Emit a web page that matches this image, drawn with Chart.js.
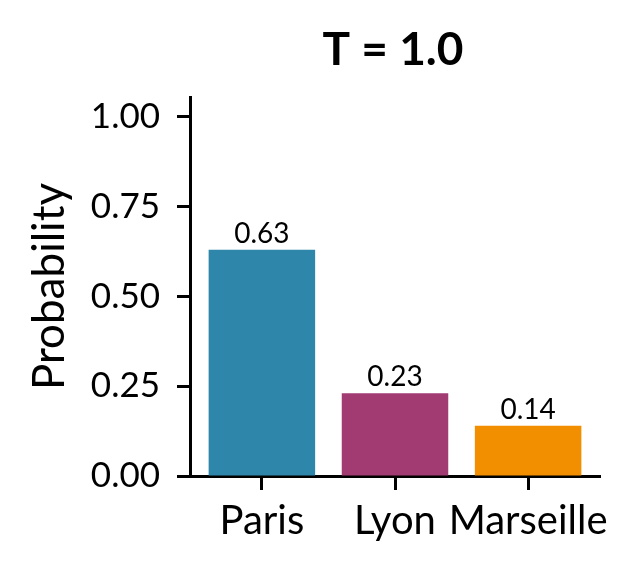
<!DOCTYPE html>
<html lang="en">
<head>
    <meta charset="UTF-8">
    <title>T = 1.0</title>
    <script src="https://cdn.jsdelivr.net/npm/chart.js"></script>
    <style>
        html, body {
            margin: 0;
            padding: 0;
            background: #ffffff;
        }
        #wrap {
            width: 636px;
            height: 574px;
        }
    </style>
</head>
<body>
    <div id="wrap"><canvas id="probChart" width="636" height="574"></canvas></div>
    <script>
        // Data
        const cities = ['Paris', 'Lyon', 'Marseille'];
        const probabilities = [0.63, 0.23, 0.14];
        const barColors = ['#2E86AB', '#A23B72', '#F18F01'];
        const yTicks = [0, 0.25, 0.5, 0.75, 1.0];
        const chartTitle = 'T = 1.0';

        const FONT = 'Lato';

        // value labels above each bar + title centred over the plot area
        const valueLabels = {
            id: 'valueLabels',
            afterDatasetsDraw(chart) {
                const ctx = chart.ctx;
                const meta = chart.getDatasetMeta(0);
                const area = chart.chartArea;
                ctx.save();
                ctx.fillStyle = '#000';
                ctx.textAlign = 'center';
                ctx.textBaseline = 'alphabetic';
                ctx.font = '28px ' + FONT;
                meta.data.forEach((bar, i) => {
                    ctx.fillText(probabilities[i].toFixed(2), bar.x, bar.y - 7);
                });
                ctx.font = 'bold 46px ' + FONT;
                ctx.fillText(chartTitle, (area.left + area.right) / 2 - 2, 65);
                ctx.restore();
            }
        };

        new Chart(document.getElementById('probChart'), {
            type: 'bar',
            data: {
                datasets: [{
                    data: probabilities.map((p, i) => ({ x: i, y: p })),
                    backgroundColor: barColors,
                    borderWidth: 0,
                    barPercentage: 0.8,
                    categoryPercentage: 1.0
                }]
            },
            options: {
                responsive: false,
                animation: false,
                layout: {
                    padding: { top: 97, right: 36, bottom: 0, left: 0 }
                },
                plugins: {
                    legend: { display: false },
                    tooltip: { enabled: false },
                    title: { display: false }
                },
                scales: {
                    x: {
                        type: 'linear',
                        offset: false,
                        min: -0.54,
                        max: 2.54,
                        afterBuildTicks: (scale) => {
                            scale.ticks = cities.map((c, i) => ({ value: i }));
                        },
                        afterFit: (scale) => { scale.height = 98; },
                        ticks: {
                            color: '#000',
                            font: { family: FONT, size: 40 },
                            padding: 7,
                            maxRotation: 0,
                            autoSkip: false,
                            callback: (v) => cities[v]
                        },
                        grid: {
                            offset: false,
                            drawOnChartArea: false,
                            drawTicks: true,
                            tickLength: 14,
                            tickWidth: 3,
                            color: '#000'
                        },
                        border: { display: true, color: '#000', width: 3 }
                    },
                    y: {
                        min: 0,
                        max: 1.055,
                        afterBuildTicks: (scale) => {
                            scale.ticks = yTicks.map(v => ({ value: v }));
                        },
                        afterFit: (scale) => { scale.width = 190; },
                        title: {
                            display: true,
                            text: 'Probability',
                            color: '#000',
                            font: { family: FONT, size: 44 },
                            padding: { top: 23, bottom: 0 }
                        },
                        ticks: {
                            color: '#000',
                            font: { family: FONT, size: 35 },
                            padding: 17,
                            callback: (v) => v.toFixed(2)
                        },
                        grid: {
                            drawOnChartArea: false,
                            drawTicks: true,
                            tickLength: 13,
                            tickWidth: 3,
                            color: '#000'
                        },
                        border: { display: true, color: '#000', width: 3 }
                    }
                }
            },
            plugins: [valueLabels]
        });
    </script>
</body>
</html>
